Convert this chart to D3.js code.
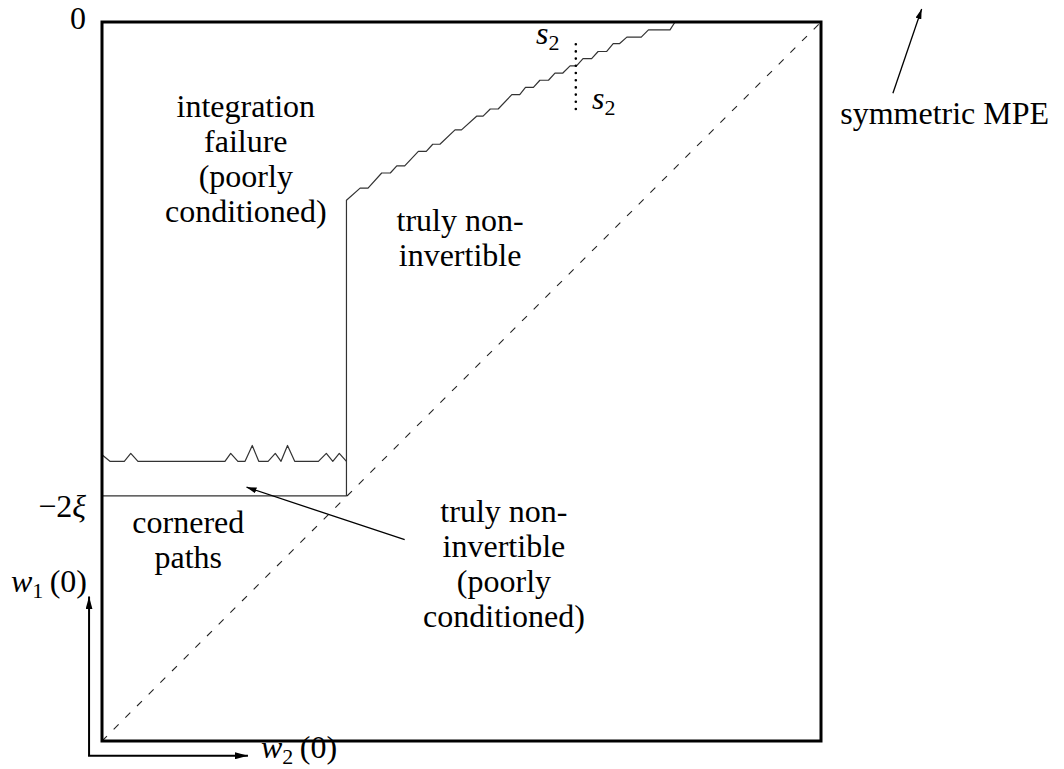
<!DOCTYPE html>
<html><head><meta charset="utf-8">
<script src="https://cdn.jsdelivr.net/npm/d3@7"></script>
<style>body{margin:0;background:#fff}</style>
</head>
<body><svg id="c" width="1064" height="769"></svg>
<script>
// ---- data (units: w2 on x, w1 on y, box = [0,100] x [0,100]) ----
const yTickValues = [100, 34.1];
const yTickLabels = ["0", "−2ξ"];

// boundary: corner line, vertical jump, then staircase up to top edge
const boundaryW2 = [0, 34.0, 34.0, 35.9, 37.0, 38.9, 40.1, 41.0, 42.1, 44.0, 45.1, 46.0, 47.0, 49.1, 50.0, 52.1, 53.0, 54.0, 55.1, 57.0, 58.1, 58.9, 60.0, 60.9, 62.1, 63.0, 64.1, 65.1, 66.0, 66.9, 68.1, 69.0, 70.2, 71.1, 72.0, 73.0, 75.0, 76.0, 79.0, 79.7];
const boundaryW1 = [34.1, 34.1, 75.2, 76.9, 76.9, 79.0, 79.0, 80.0, 80.0, 82.0, 82.0, 83.0, 83.0, 85.0, 85.0, 86.9, 86.9, 87.9, 87.9, 89.9, 89.9, 90.9, 90.9, 91.9, 91.9, 92.9, 92.9, 93.9, 93.9, 94.9, 94.9, 95.9, 95.9, 97.0, 97.0, 97.9, 97.9, 98.9, 98.9, 100];

// jagged integration-failure boundary
const jaggedW2 = [0, 1.1, 3.1, 4.0, 5.0, 17.1, 17.9, 18.9, 19.9, 20.9, 21.8, 23.1, 24.1, 24.9, 25.8, 26.8, 30.1, 31.2, 32.1, 33.0, 34.0];
const jaggedW1 = [39.8, 38.9, 38.9, 40.0, 38.9, 38.9, 40.0, 38.9, 38.9, 41.1, 38.9, 38.9, 40.0, 38.9, 41.1, 38.9, 38.9, 40.0, 38.9, 40.0, 38.9];

// symmetric MPE diagonal
const diagW2 = [0, 100];
const diagW1 = [0, 100];

// s2 dotted marker
const s2W2 = [65.9, 65.9];
const s2W1 = [87.9, 97.9];

// region labels
const regionLabels = [
  {lines: ["integration", "failure", "(poorly", "conditioned)"], w2: 20.0, w1: 86.8},
  {lines: ["truly non-", "invertible"], w2: 49.8, w1: 70.9},
  {lines: ["truly non-", "invertible", "(poorly", "conditioned)"], w2: 55.9, w1: 30.5},
  {lines: ["cornered", "paths"], w2: 12.0, w1: 28.9},
  {lines: ["symmetric MPE"], w2: 117.2, w1: 85.8}
];

// annotation arrows [from w2, from w1, to w2, to w1]
const arrowFromW2 = [42.1, 110.0];
const arrowFromW1 = [28.0, 90.1];
const arrowToW2 = [20.1, 114.0];
const arrowToW1 = [35.3, 101.8];

// ---- drawing ----
const svg = d3.select("#c");
const x = d3.scaleLinear().domain([0, 100]).range([102, 821]);
const y = d3.scaleLinear().domain([0, 100]).range([741, 22]);
const lineGen = d3.line().x(d => x(d[0])).y(d => y(d[1]));
const pts = (a, b) => a.map((v, i) => [v, b[i]]);
const LH = 35;

const defs = svg.append("defs");
function marker(id, len, half) {
  defs.append("marker").attr("id", id).attr("markerUnits", "userSpaceOnUse")
    .attr("viewBox", `0 ${-half} ${len} ${2*half}`).attr("refX", len).attr("refY", 0)
    .attr("markerWidth", len).attr("markerHeight", 2*half).attr("orient", "auto")
    .append("path").attr("d", `M0,${-half}L${len},0L0,${half}Z`).attr("fill", "#000");
}
marker("ah", 10, 3);
marker("ahBig", 13, 3.5);

// diagonal dashed
svg.append("path").attr("d", lineGen(pts(diagW2, diagW1)))
  .attr("fill", "none").attr("stroke", "#222").attr("stroke-width", 1.1).attr("stroke-dasharray", "7 9.5");

// boundary lines
svg.append("path").attr("d", lineGen(pts(boundaryW2, boundaryW1)))
  .attr("fill", "none").attr("stroke", "#333").attr("stroke-width", 1.2).attr("stroke-linejoin", "round");
svg.append("path").attr("d", lineGen(pts(jaggedW2, jaggedW1)))
  .attr("fill", "none").attr("stroke", "#333").attr("stroke-width", 1.2).attr("stroke-linejoin", "round");

// dotted s2
svg.append("path").attr("d", lineGen(pts(s2W2, s2W1)))
  .attr("fill", "none").attr("stroke", "#000").attr("stroke-width", 2.6)
  .attr("stroke-linecap", "round").attr("stroke-dasharray", "0 7.2");

// box
svg.append("rect").attr("x", x(0)).attr("y", y(100)).attr("width", x(100) - x(0)).attr("height", y(0) - y(100))
  .attr("fill", "none").attr("stroke", "#000").attr("stroke-width", 3);

// annotation arrows
arrowFromW2.forEach((v, i) => {
  svg.append("line").attr("x1", x(v)).attr("y1", y(arrowFromW1[i]))
    .attr("x2", x(arrowToW2[i])).attr("y2", y(arrowToW1[i]))
    .attr("stroke", "#000").attr("stroke-width", 1.3).attr("marker-end", "url(#ah)");
});

// axis direction arrows (bottom-left)
const ox = x(-1.8), oy = y(-2.05);
svg.append("line").attr("x1", ox).attr("y1", oy).attr("x2", ox).attr("y2", y(20.1))
  .attr("stroke", "#000").attr("stroke-width", 2).attr("marker-end", "url(#ahBig)");
svg.append("line").attr("x1", ox - 1).attr("y1", oy).attr("x2", x(20.3)).attr("y2", oy)
  .attr("stroke", "#000").attr("stroke-width", 2).attr("marker-end", "url(#ahBig)");

const FS = 32;
// text without text-anchor: position computed from measured width
function txt(px, py) {
  return svg.append("text").attr("x", px).attr("y", py)
    .attr("font-size", FS).attr("font-family", "Liberation Serif");
}
function anchor(t, px, mode) {
  const w = t.node().getComputedTextLength();
  const shift = mode === "middle" ? w / 2 : mode === "end" ? w : 0;
  t.attr("x", px - shift);
  return t;
}
// y tick labels
const tickBaselineOffset = [7, 21];
yTickValues.forEach((v, i) => {
  const t = txt(86, y(v) + tickBaselineOffset[i]);
  if (yTickLabels[i] === "−2ξ") {
    t.append("tspan").text("−2");
    t.append("tspan").attr("font-style", "italic").text("ξ");
  } else t.text(yTickLabels[i]);
  anchor(t, 86, "end");
});

// axis labels
function mathLabel(px, py, mode, sym, sub, rest) {
  const t = txt(px, py);
  t.append("tspan").attr("font-style", "italic").text(sym);
  t.append("tspan").attr("font-size", 22).attr("dy", 6).text(sub);
  if (rest) t.append("tspan").attr("dy", -6).text(rest);
  return anchor(t, px, mode);
}
mathLabel(87, 592, "end", "w", "1", "\u2009(0)");
mathLabel(261, 758, "start", "w", "2", "\u2009(0)");
mathLabel(536, 44, "start", "s", "2");
mathLabel(592, 109, "start", "s", "2");

// region labels
regionLabels.forEach(r => {
  r.lines.forEach((ln, i) => {
    const t = txt(x(r.w2), y(r.w1) + i * LH).text(ln);
    anchor(t, x(r.w2), "middle");
  });
});
</script>
</body></html>
